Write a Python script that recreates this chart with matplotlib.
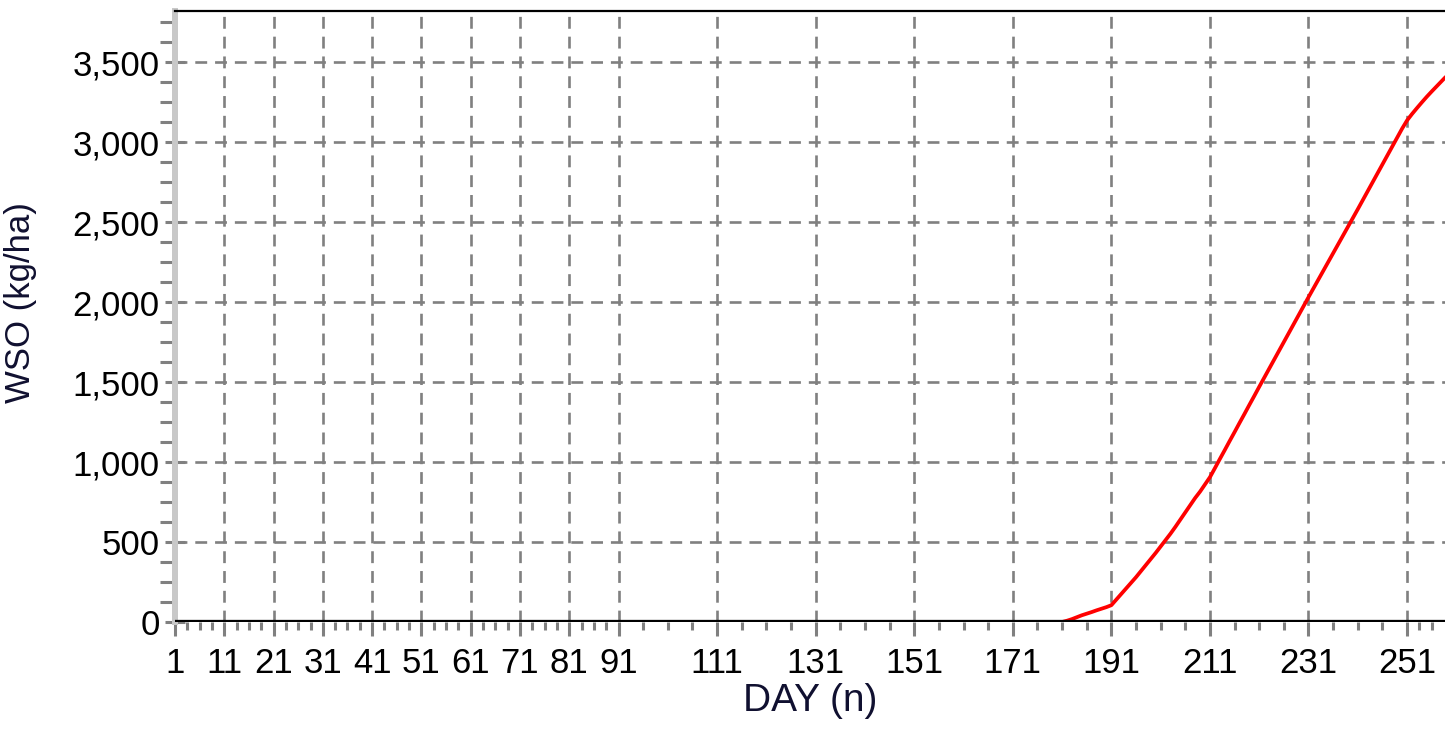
import matplotlib
matplotlib.use("Agg")
import matplotlib.pyplot as plt
import numpy as np

# ---- data ----
days = list(range(181, 260))
wso = [0, 8, 18, 30, 42, 52, 62, 73, 83, 93,
       105, 140, 175, 210, 245, 280, 318, 356, 394, 432,
       472, 512, 552, 595, 640, 685, 730, 775, 815, 860,
       905, 961, 1018, 1074, 1131, 1187, 1244, 1300, 1357, 1413,
       1470, 1526, 1582, 1638, 1694, 1750, 1806, 1862, 1918, 1974,
       2030, 2085, 2140, 2195, 2250, 2305, 2360, 2415, 2470, 2525,
       2580, 2636, 2692, 2748, 2804, 2860, 2916, 2972, 3028, 3084,
       3135, 3175, 3212, 3248, 3283, 3316, 3348, 3380, 3412]
x_major = [1, 11, 21, 31, 41, 51, 61, 71, 81, 91,
           111, 131, 151, 171, 191, 211, 231, 251]
x_grid = x_major[1:]
y_major = [0, 500, 1000, 1500, 2000, 2500, 3000, 3500]
y_labels = ["0", "500", "1,000", "1,500", "2,000", "2,500", "3,000", "3,500"]
xlabel = "DAY (n)"
ylabel = "WSO (kg/ha)"

W, H = 1445, 735
fig = plt.figure(figsize=(W / 100, H / 100), dpi=100)
L, R, T, B = 175, 1445, 11, 622
ax = fig.add_axes([L / W, 1 - B / H, (R - L) / W, (B - T) / H])

ax.set_xlim(1, 258.7)
ax.set_ylim(0, 3819)

font = "Liberation Sans"
fs = 25
gray = "#808080"

# grid
for gx in x_grid:
    ax.axvline(gx, color=gray, lw=1.9, ls=(0, (4.5, 3)), zorder=1)
for gy in y_major[1:]:
    ax.axhline(gy, color=gray, lw=1.9, ls=(0, (4.5, 3)), zorder=1)

ax.plot(days, wso, color="#ff0000", lw=2.7, zorder=3, solid_capstyle="butt")
ax.axhline(0, color="black", lw=3.8, zorder=4)

# spines
for s in ["right", "bottom"]:
    ax.spines[s].set_visible(False)
ax.spines["top"].set_color("black")
ax.spines["top"].set_linewidth(1.6)
ax.spines["left"].set_color("#c8c8c8")
ax.spines["left"].set_linewidth(4.3)
ax.spines["left"].set_zorder(2)

# ticks
ax.set_xticks(x_major)
ax.set_xticklabels([str(v) for v in x_major], fontsize=fs, family=font)
minor_x = list(np.arange(1, 91, 2.5)) + list(np.arange(91, 251, 5)) + [253.5, 256]
ax.set_xticks([m for m in minor_x if m not in x_major], minor=True)
ax.set_yticks(y_major)
ax.set_yticklabels(y_labels, fontsize=fs, family=font)
ax.set_yticks([v for v in np.arange(0, 3800, 125) if v % 500 != 0], minor=True)

ax.tick_params(axis="x", which="major", direction="out", length=10, width=2.2,
               color=gray, pad=8, labelcolor="black")
ax.tick_params(axis="x", which="minor", direction="out", length=6, width=2.2, color=gray)
ax.tick_params(axis="y", which="major", direction="inout", length=14, width=2.2,
               color=gray, pad=4, labelcolor="black")
ax.tick_params(axis="y", which="minor", direction="out", length=10.5, width=2.2, color=gray)

ax.set_xlabel(xlabel, fontsize=28, family=font, color="#101030", labelpad=2)
ax.set_ylabel(ylabel, fontsize=fs, family=font, color="#101030", labelpad=12)
ax.yaxis.set_label_coords(-(L - 37) / (R - L), 0.5 + 14 / (B - T))

fig.savefig("out.png", dpi=100)
